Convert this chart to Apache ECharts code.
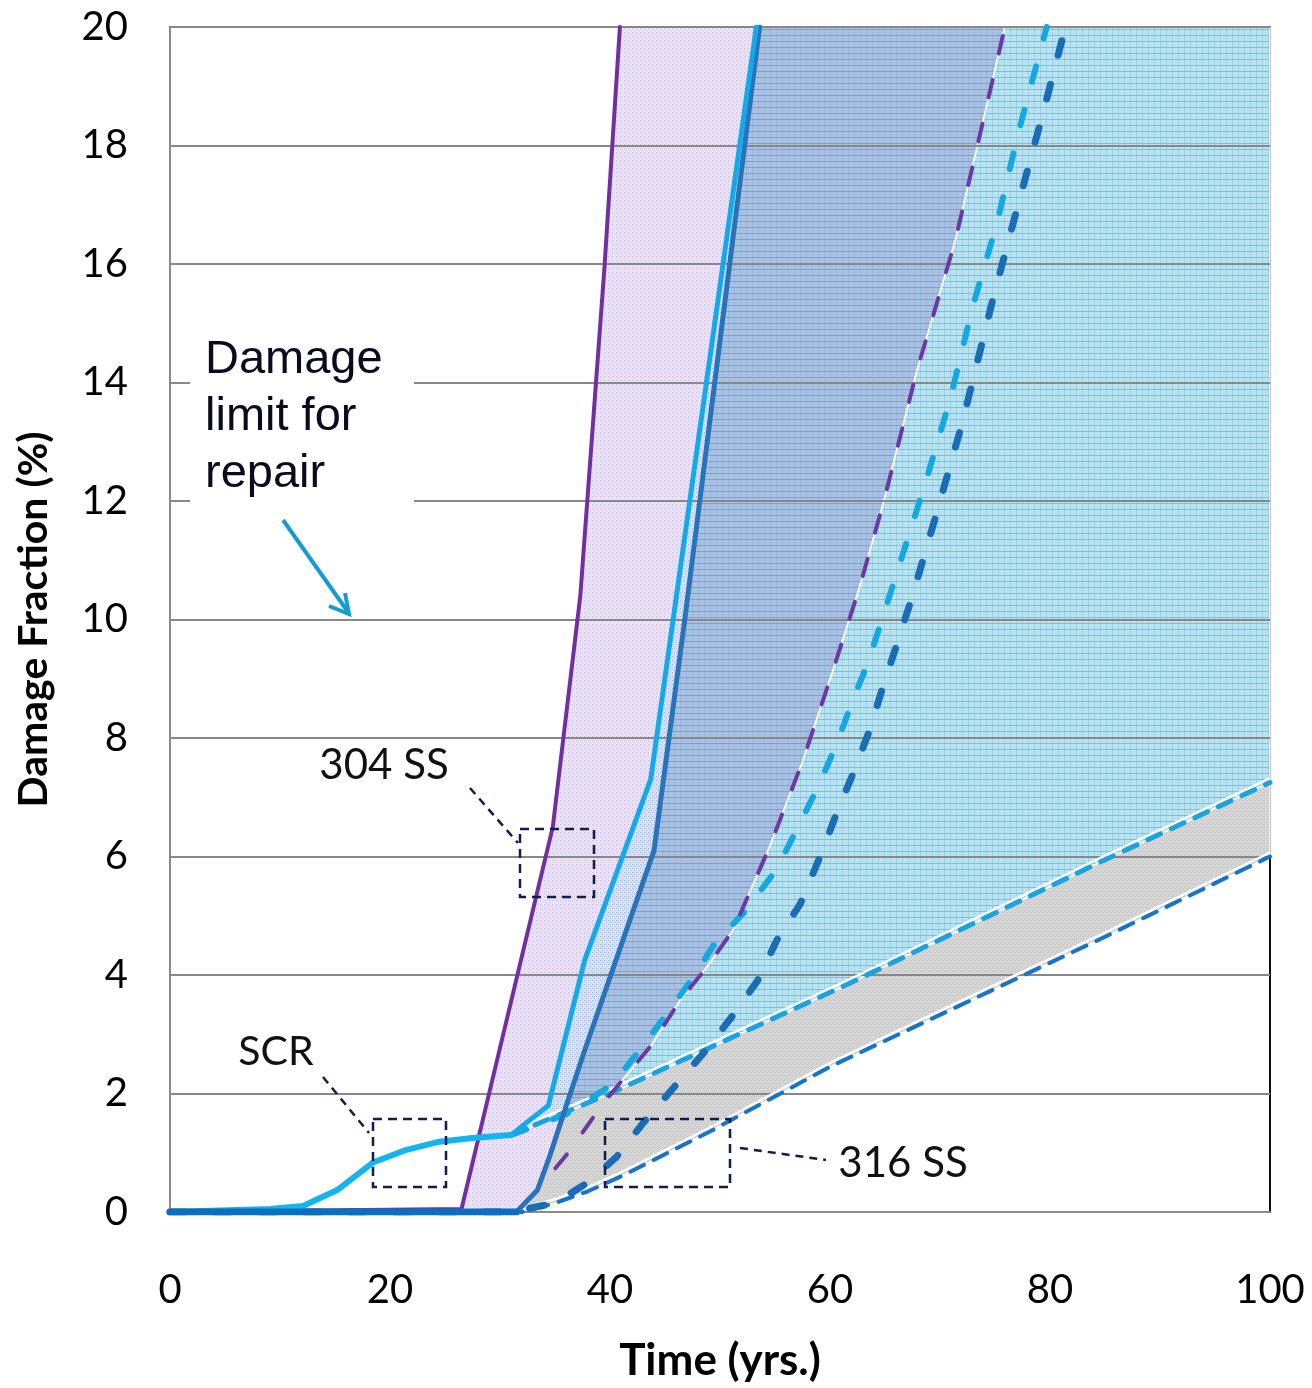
<!DOCTYPE html>
<html>
<head>
<meta charset="utf-8">
<title>Damage Fraction vs Time</title>
<script src="https://cdn.jsdelivr.net/npm/echarts@6/dist/echarts.min.js"></script>
<style>
  html, body { margin: 0; padding: 0; background: #fff; }
  #chart { width: 1312px; height: 1388px; }
</style>
</head>
<body>
<div id="chart"></div>
<script>
// ---- data: [time (yrs), damage fraction (%)] ----
const scrCurve = [[0,0],[9.1,0.05],[12.1,0.1],[15.2,0.37],[18.5,0.84],[21.5,1.05],[24.3,1.18],[27.5,1.25],[31,1.3]];

// 304 SS solid curves
const ss304Purple = [[0,0],[26.5,0.05],[34.8,6.5],[37.3,10.4],[39.5,15.95],[40.9,20]];
const ss304Light  = [[31,1.3],[34.4,1.8],[37.7,4.25],[43.7,7.3],[53.3,20]];
const ss304Dark   = [[0,0],[31.5,0],[33.4,0.37],[34.5,0.93],[35.5,1.5],[37.7,2.73],[44,6.1],[46.8,10],[53.6,20]];

// dashed curves
const dashPurple = [[0,0],[31.5,0],[33.4,0.37],[36.2,1.0],[39.4,1.84],[43.7,2.8],[46.4,3.58],[48.8,4.13],[51.2,4.76],[54.5,6.16],[57.5,7.6],[60.2,9.1],[62.7,10.55],[64.9,12],[67.9,14.2],[71.4,16.4],[75.9,20]];
const dashLight  = [[31,1.3],[36,1.65],[40.2,2.15],[42.7,2.73],[45.2,3.35],[47.6,3.97],[49.4,4.5],[52.4,5.1],[55.2,5.8],[57.1,6.5],[58.9,7.17],[60.5,7.85],[62,8.6],[63.5,9.3],[64.8,10.04],[66.1,10.8],[68.5,12.2],[70.9,13.7],[73,15.3],[75.2,16.7],[77.1,18.2],[79.7,20]];
const dashDark   = [[0,0],[31,0],[35,0.15],[38,0.5],[40.6,0.93],[43,1.5],[45.7,2.08],[48.5,2.68],[51.1,3.3],[53.4,3.9],[55.2,4.6],[57.3,5.2],[59.1,6.0],[60.6,6.73],[62.1,7.4],[63.6,8.13],[64.8,8.86],[66.2,9.65],[67.5,10.4],[69.7,11.8],[72,13.3],[74.8,15.4],[77.1,17],[79.3,18.5],[81.4,20]];

// 316 SS bounding lines
const ss316Upper = [[31,1.3],[40,2.0],[61.8,3.86],[84.5,5.9],[100,7.25]];
const ss316Lower = [[0,0],[32,0],[35,0.15],[38,0.35],[41,0.6],[49,1.35],[60,2.45],[84.5,4.6],[100,6.0]];

// axis ticks
const xTicks = [0, 20, 40, 60, 80, 100];
const yTicks = [0, 2, 4, 6, 8, 10, 12, 14, 16, 18, 20];

// ---- shaded bands, built from the curves above ----
const Y_TOP = yTicks[yTicks.length - 1];
const X_END = xTicks[xTicks.length - 1];

// first crossing point of two polylines
function crossing(a, b) {
  for (let i = 0; i < a.length - 1; i++) {
    const p = a[i], r = [a[i + 1][0] - p[0], a[i + 1][1] - p[1]];
    for (let j = 0; j < b.length - 1; j++) {
      const q = b[j], s = [b[j + 1][0] - q[0], b[j + 1][1] - q[1]];
      const den = r[0] * s[1] - r[1] * s[0];
      if (Math.abs(den) < 1e-12) continue;
      const qp = [q[0] - p[0], q[1] - p[1]];
      const t = (qp[0] * s[1] - qp[1] * s[0]) / den;
      const u = (qp[0] * r[1] - qp[1] * r[0]) / den;
      if (t > 1e-9 && t <= 1 && u >= 0 && u <= 1) return [p[0] + t * r[0], p[1] + t * r[1]];
    }
  }
  return null;
}
const after = (line, x) => line.filter(p => p[0] > x);
const between = (line, x0, x1) => line.filter(p => p[0] > x0 && p[0] < x1);
const rev = arr => arr.slice().reverse();

const crossDark = crossing(ss304Dark, ss316Upper);
const crossPurple = crossing(dashPurple, ss316Upper);
const lowerStart = ss316Lower.find(p => p[1] === 0 && p[0] > 0);
const darkFoot = ss304Dark.filter(p => p[1] === 0).pop();

const bandGray = [].concat(
  [crossDark], after(ss316Upper, crossDark[0]),
  rev(after(ss316Lower, lowerStart[0])), [lowerStart],
  between(ss304Dark, darkFoot[0], crossDark[0]).length ? [[darkFoot[0] + 0.5, 0]] : [],
  between(ss304Dark, darkFoot[0], crossDark[0])
);
const bandLavender = [].concat(ss304Purple.slice(1), rev(dashPurple).filter(p => p[0] >= 31.5));
const bandStrip = [].concat(ss304Light, rev(after(ss304Dark, crossDark[0])), [crossDark]);
const bandOverlap = [].concat(
  [crossDark], after(ss304Dark, crossDark[0]),
  rev(after(dashPurple, crossPurple[0])), [crossPurple],
  rev(between(ss316Upper, crossDark[0], crossPurple[0]))
);
const bandTeal = [].concat(
  [crossPurple], after(dashPurple, crossPurple[0]),
  [[X_END, Y_TOP]], rev(after(ss316Upper, crossPurple[0]))
);

// small tiled textures for the bands
function tile(w, h, bg, dots) {
  const c = document.createElement('canvas');
  c.width = w; c.height = h;
  const g = c.getContext('2d');
  g.fillStyle = bg; g.fillRect(0, 0, w, h);
  dots.forEach(d => { g.clearRect(d[0], d[1], d[3] || 1, d[4] || 1); g.fillStyle = d[2]; g.fillRect(d[0], d[1], d[3] || 1, d[4] || 1); });
  return c;
}
const texGray = tile(4, 4, 'rgb(206,206,206)', [[1,1,'#ffffff'],[3,3,'rgb(230,230,230)']]);
const texLavender = tile(4, 4, 'rgba(197,174,226,0.36)', [[0,0,'rgba(150,112,200,0.5)'],[2,2,'rgba(170,140,212,0.45)'],[1,0,'rgba(185,160,220,0.4)'],[0,1,'rgba(185,160,220,0.4)']]);
const texStrip = tile(4, 4, 'rgb(216,226,244)', [[0,0,'rgb(120,184,230)'],[2,2,'rgb(176,170,220)'],[2,0,'rgb(196,214,240)']]);
const texOverlap = tile(6, 6, 'rgb(172,194,226)', [[0,5,'rgb(132,158,202)',6,1],[2,0,'rgb(156,182,216)',1,5],[4,2,'rgb(124,194,226)'],[0,2,'rgb(180,184,224)']]);
const texTeal = tile(6, 6, 'rgb(188,227,240)', [[0,5,'rgb(132,188,212)',6,1],[2,0,'rgb(158,208,228)',1,5],[5,2,'rgb(170,216,232)']]);

const bands = [
  { pts: bandLavender, tex: texLavender },
  { pts: bandGray,     tex: texGray },
  { pts: bandStrip,    tex: texStrip },
  { pts: bandOverlap,  tex: texOverlap },
  { pts: bandTeal,     tex: texTeal }
];
// white edges running just above the 316 SS bounding lines
const edges = [ss316Upper, after(ss316Lower, lowerStart[0] - 0.01)];

const chart = echarts.init(document.getElementById('chart'), null, { renderer: 'canvas' });

const tickFont = 'Lato';
function lineSeries(name, data, color, width, dash, z) {
  return {
    name: name, type: 'line', data: data, symbol: 'none', z: z,
    lineStyle: { color: color, width: width, type: dash || 'solid', cap: 'round', join: 'round' },
    silent: true, animation: false
  };
}

const navy = '#0f1f4b';
const option = {
  animation: false,
  grid: { left: 170, right: 42, top: 27, bottom: 176, show: true, borderColor: '#111', borderWidth: 2, backgroundColor: 'transparent' },
  xAxis: {
    type: 'value', min: 0, max: 100, interval: 20, z: 1,
    axisLine: { show: true, lineStyle: { color: '#8a8a8a', width: 2 } },
    axisTick: { show: false },
    splitLine: { show: false },
    axisLabel: { margin: 58, fontFamily: tickFont, fontSize: 40, color: '#000' },
    name: 'Time (yrs.)', nameLocation: 'middle', nameGap: 127,
    nameTextStyle: { fontFamily: tickFont, fontWeight: 'bold', fontSize: 44, color: '#000' }
  },
  yAxis: {
    type: 'value', min: 0, max: 20, interval: 2, z: 1,
    axisLine: { show: true, lineStyle: { color: '#8a8a8a', width: 2 } },
    axisTick: { show: false },
    splitLine: { show: true, lineStyle: { color: '#888888', width: 2 } },
    axisLabel: { margin: 42, fontFamily: tickFont, fontSize: 40, color: '#000' },
    name: 'Damage Fraction (%)', nameLocation: 'middle', nameGap: 116, nameRotate: 90,
    nameTextStyle: { fontFamily: tickFont, fontWeight: 'bold', fontSize: 41, color: '#000' }
  },
  series: [
    {
      type: 'custom', name: 'bands', z: 0, silent: true,
      coordinateSystem: 'cartesian2d',
      data: bands.map((b, i) => [i, 0]),
      encode: { x: 0, y: 1 },
      renderItem: function (params, api) {
        const b = bands[params.dataIndex];
        return {
          type: 'polygon',
          shape: { points: b.pts.map(p => api.coord(p)) },
          style: { fill: { image: b.tex, repeat: 'repeat' }, stroke: '#ffffff', lineWidth: 1.5 }
        };
      }
    },
    {
      type: 'custom', name: 'band edges', z: 2, silent: true,
      coordinateSystem: 'cartesian2d',
      data: edges.map((e, i) => [i, 0]),
      encode: { x: 0, y: 1 },
      renderItem: function (params, api) {
        const pts = edges[params.dataIndex].map(p => { const c = api.coord(p); return [c[0], c[1] - 4]; });
        return { type: 'polyline', shape: { points: pts }, style: { stroke: '#ffffff', lineWidth: 2.5, fill: null } };
      }
    },
    lineSeries('316 SS lower', ss316Lower, '#1874c6', 4, [15, 11], 3),
    lineSeries('316 SS upper', ss316Upper, '#1aa3dc', 5, [14, 12], 3),
    lineSeries('dark dashed', dashDark, '#1b6db3', 7, [15, 30], 4),
    lineSeries('light dashed', dashLight, '#15a8df', 6, [16, 29], 4),
    lineSeries('purple dashed', dashPurple, '#6a3aa2', 4, [18, 27], 5),
    lineSeries('304 SS dark', ss304Dark, '#2a73b8', 5, 'solid', 6),
    lineSeries('304 SS light', ss304Light, '#14a9e8', 5, 'solid', 6),
    lineSeries('304 SS purple', ss304Purple, '#7030a0', 4, 'solid', 7),
    lineSeries('SCR', scrCurve, '#14b4ee', 6, 'solid', 7),
    lineSeries('base', [[0,0],[31.5,0]], '#0a6fc0', 7, 'solid', 8)
  ],
  graphic: [
    // label box for the repair limit note
    { type: 'rect', z: 100, shape: { x: 190, y: 328, width: 224, height: 178 }, style: { fill: '#ffffff' } },
    { type: 'text', z: 101, x: 205, y: 332, style: { text: 'Damage\nlimit for\nrepair', font: '47px "Liberation Sans"', lineHeight: 57, fill: '#0b0b1f' } },
    { type: 'line', z: 101, shape: { x1: 283, y1: 520, x2: 348, y2: 612 }, style: { stroke: '#179cd2', lineWidth: 4 } },
    { type: 'polyline', z: 101, shape: { points: [[345, 593], [349, 614], [329, 606]] }, style: { stroke: '#179cd2', lineWidth: 4, fill: null, lineJoin: 'miter' } },

    // 304 SS callout
    { type: 'text', z: 101, x: 384, y: 765, style: { text: '304 SS', font: '42px Lato', fill: '#111', align: 'center', verticalAlign: 'middle' } },
    { type: 'line', z: 101, shape: { x1: 470, y1: 788, x2: 518, y2: 843 }, style: { stroke: navy, lineWidth: 2.5, lineDash: [8, 6] } },
    { type: 'rect', z: 101, shape: { x: 520, y: 829, width: 74, height: 68 }, style: { fill: null, stroke: navy, lineWidth: 2.5, lineDash: [9, 6] } },

    // SCR callout
    { type: 'text', z: 101, x: 276, y: 1052, style: { text: 'SCR', font: '41px Lato', fill: '#111', align: 'center', verticalAlign: 'middle' } },
    { type: 'line', z: 101, shape: { x1: 323, y1: 1077, x2: 369, y2: 1133 }, style: { stroke: navy, lineWidth: 2.5, lineDash: [8, 6] } },
    { type: 'rect', z: 101, shape: { x: 373, y: 1119, width: 73, height: 68 }, style: { fill: null, stroke: navy, lineWidth: 2.5, lineDash: [9, 6] } },

    // 316 SS callout
    { type: 'text', z: 101, x: 903, y: 1163, style: { text: '316 SS', font: '42px Lato', fill: '#111', align: 'center', verticalAlign: 'middle' } },
    { type: 'line', z: 101, shape: { x1: 740, y1: 1148, x2: 826, y2: 1160 }, style: { stroke: navy, lineWidth: 2.5, lineDash: [8, 6] } },
    { type: 'rect', z: 101, shape: { x: 605, y: 1119, width: 125, height: 68 }, style: { fill: null, stroke: navy, lineWidth: 2.5, lineDash: [9, 6] } }
  ]
};
chart.setOption(option);
</script>
</body>
</html>
